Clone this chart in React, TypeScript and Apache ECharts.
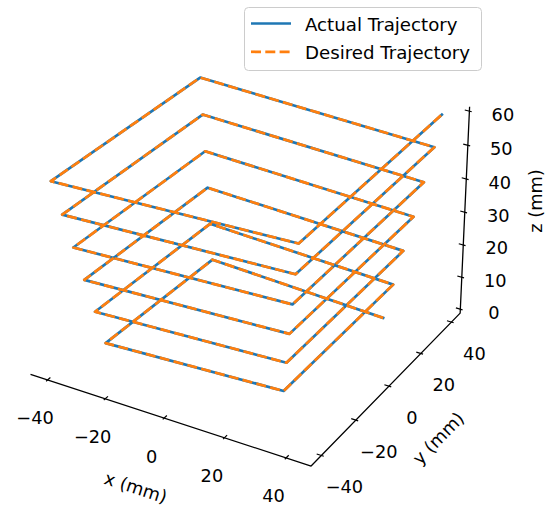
import React, { useEffect, useRef } from "react";
import * as echarts from "echarts";

// ---- data (mm) ----
const desiredX = [30, -30, -30, 30, 32, -32, -32, 32, 34, -34, -34, 34, 36, -36, -36, 36, 38, -38, -38, 38, 40, -40, -40, 40, 42];
const desiredY = [30, 30, -30, -30, 32, 32, -32, -32, 34, 34, -34, -34, 36, 36, -36, -36, 38, 38, -38, -38, 40, 40, -40, -40, 40];
const desiredZ = [0, 2.5, 5, 7.5, 10, 12.5, 15, 17.5, 20, 22.5, 25, 27.5, 30, 32.5, 35, 37.5, 40, 42.5, 45, 47.5, 50, 52.5, 55, 57.5, 60];

const actualX = [30, -30, -30, 30, 32, -32, -32, 32, 34, -34, -34, 34, 36, -36, -36, 36, 38, -38, -38, 38, 40, -40, -40, 40, 42];
const actualY = [30, 30, -30, -30, 32, 32, -32, -32, 34, 34, -34, -34, 36, 36, -36, -36, 38, 38, -38, -38, 40, 40, -40, -40, 40];
const actualZ = [0, 2.5, 5, 7.5, 10, 12.5, 15, 17.5, 20, 22.5, 25, 27.5, 30, 32.5, 35, 37.5, 40, 42.5, 45, 47.5, 50, 52.5, 55, 57.5, 60];

const xTicks = [-40, -20, 0, 20, 40];
const yTicks = [-40, -20, 0, 20, 40];
const zTicks = [0, 10, 20, 30, 40, 50, 60];

const seriesNames = ["Actual Trajectory", "Desired Trajectory"];
const axisTitles = ["x (mm)", "y (mm)", "z (mm)"];

// ---- view / layout ----
const W = 553;
const H = 506;
const ELEV = 30;
const AZIM = -60;
const DIST = 10;
const BOX = [8 / 7, 8 / 7, 6 / 7];
const XLIM = [-44.1, 46.1];
const YLIM = [-44, 44];
const ZLIM = [0, 60];
const K = 2700;
const CX = 249.3;
const CY = 241.1;
const FONT = '17.8px "DejaVu Sans"';
const LEGEND_FONT = '18.2px "DejaVu Sans"';
const BLUE = "#1f77b4";
const ORANGE = "#ff7f0e";
const LW = 2.7;
const DASH = [10, 4.3];

const fmt = (v: number) => (v < 0 ? "\u2212" + Math.abs(v) : String(v));

function makeProjector() {
  const el = (ELEV * Math.PI) / 180;
  const az = (AZIM * Math.PI) / 180;
  const w = [Math.cos(el) * Math.cos(az), Math.cos(el) * Math.sin(az), Math.sin(el)];
  const nu = Math.hypot(w[1], w[0]);
  const u = [-w[1] / nu, w[0] / nu, 0];
  const v = [
    w[1] * u[2] - w[2] * u[1],
    w[2] * u[0] - w[0] * u[2],
    w[0] * u[1] - w[1] * u[0],
  ];
  const dot = (a: number[], b: number[]) => a[0] * b[0] + a[1] * b[1] + a[2] * b[2];
  return (x: number, y: number, z: number): number[] => {
    const P = [
      ((x - XLIM[0]) / (XLIM[1] - XLIM[0]) - 0.5) * BOX[0],
      ((y - YLIM[0]) / (YLIM[1] - YLIM[0]) - 0.5) * BOX[1],
      ((z - ZLIM[0]) / (ZLIM[1] - ZLIM[0]) - 0.5) * BOX[2],
    ];
    const s = 1 / (DIST - dot(w, P));
    return [CX + K * dot(u, P) * s, CY - K * dot(v, P) * s];
  };
}

export default function App() {
  const ref = useRef<HTMLDivElement>(null);

  useEffect(() => {
    if (!ref.current) return;
    const chart = echarts.init(ref.current, undefined, { renderer: "svg" });
    const proj = makeProjector();

    const padX = (XLIM[1] - XLIM[0]) / 48;
    const padY = (YLIM[1] - YLIM[0]) / 48;
    const padZ = (ZLIM[1] - ZLIM[0]) / 48;
    const xb0 = XLIM[0] - padX, xb1 = XLIM[1] + padX;
    const yb0 = YLIM[0] - padY, yb1 = YLIM[1] + padY;
    const zb0 = ZLIM[0] - padZ, zb1 = ZLIM[1] + padZ;
    const dX = (XLIM[1] - XLIM[0]) / 12;
    const dY = (YLIM[1] - YLIM[0]) / 12;

    const actualPts = actualX.map((x, i) => proj(x, actualY[i], actualZ[i]));
    const desiredPts = desiredX.map((x, i) => proj(x, desiredY[i], desiredZ[i]));

    const axisPts = [
      proj(xb0, yb0, zb0),
      proj(xb1, yb0, zb0),
      proj(xb1, yb1, zb0),
      proj(xb1, yb1, zb1),
    ];

    const ticks: number[][][] = [];
    xTicks.forEach((t) => ticks.push([proj(t, yb0 - 0.1 * dY, zb0), proj(t, yb0 + 0.2 * dY, zb0)]));
    yTicks.forEach((t) => ticks.push([proj(xb1 + 0.1 * dX, t, zb0), proj(xb1 - 0.2 * dX, t, zb0)]));
    zTicks.forEach((t) => ticks.push([proj(xb1 + 0.1 * dX, yb1, t), proj(xb1 - 0.2 * dX, yb1, t)]));

    const text = (s: string, x: number, y: number, rotation = 0, extra: any = {}) => ({
      type: "text",
      x,
      y,
      rotation,
      z: 10,
      style: {
        text: s,
        font: FONT,
        fill: "#000",
        align: "center",
        verticalAlign: "middle",
        textAlign: "center",
        textVerticalAlign: "middle",
        ...extra,
      },
    });

    const graphics: any[] = [];
    xTicks.forEach((t) => {
      const p = proj(t, yb0, zb0);
      graphics.push(text(fmt(t), p[0] - 12.5, p[1] + 38));
    });
    yTicks.forEach((t) => {
      const p = proj(xb1, t, zb0);
      graphics.push(text(fmt(t), p[0] + 23, p[1] + 31.5));
    });
    zTicks.forEach((t) => {
      const p = proj(xb1, yb1, t);
      graphics.push(text(fmt(t), p[0] + 33.5, p[1] + 3));
    });

    const mid = (a: number[], b: number[]) => [(a[0] + b[0]) / 2, (a[1] + b[1]) / 2];
    const mx = mid(axisPts[0], axisPts[1]);
    const my = mid(axisPts[1], axisPts[2]);
    const mz = mid(axisPts[2], axisPts[3]);
    const angX = Math.atan2(axisPts[1][1] - axisPts[0][1], axisPts[1][0] - axisPts[0][0]);
    const angY = Math.atan2(axisPts[2][1] - axisPts[1][1], axisPts[2][0] - axisPts[1][0]);
    graphics.push(text(axisTitles[0], mx[0] - 35, mx[1] + 67, -angX));
    graphics.push(text(axisTitles[1], my[0] + 52.5, my[1] + 48.5, -angY));
    graphics.push(text(axisTitles[2], mz[0] + 71, mz[1] - 9, Math.PI / 2));

    // legend
    graphics.push({
      type: "rect",
      z: 10,
      shape: { x: 244.5, y: 7.5, width: 237, height: 63, r: 4 },
      style: { fill: "rgba(255,255,255,0.8)", stroke: "#cccccc", lineWidth: 1 },
    });
    graphics.push({
      type: "line",
      z: 11,
      shape: { x1: 251, y1: 23.5, x2: 291, y2: 23.5 },
      style: { stroke: BLUE, lineWidth: LW },
    });
    graphics.push({
      type: "line",
      z: 11,
      shape: { x1: 251, y1: 51.8, x2: 291, y2: 51.8 },
      style: { stroke: ORANGE, lineWidth: LW, lineDash: DASH },
    });
    graphics.push(text(seriesNames[0], 305, 24.3, 0, { align: "left", textAlign: "left", font: LEGEND_FONT }));
    graphics.push(text(seriesNames[1], 305, 52.6, 0, { align: "left", textAlign: "left", font: LEGEND_FONT }));

    chart.setOption({
      animation: false,
      grid: { left: 0, right: 0, top: 0, bottom: 0, containLabel: false },
      xAxis: { type: "value", min: 0, max: W, show: false },
      yAxis: { type: "value", min: 0, max: H, inverse: true, show: false },
      series: [
        {
          type: "line",
          data: axisPts,
          symbol: "none",
          silent: true,
          clip: false,
          z: 2,
          lineStyle: { color: "#000", width: 1.3 },
        },
        {
          type: "lines",
          coordinateSystem: "cartesian2d",
          silent: true,
          z: 2,
          data: ticks.map((c) => ({ coords: c })),
          lineStyle: { color: "#000", width: 1.2, opacity: 1, curveness: 0 },
        },
        {
          type: "line",
          name: seriesNames[0],
          data: actualPts,
          symbol: "none",
          silent: true,
          clip: false,
          z: 3,
          lineStyle: { color: BLUE, width: LW, join: "round", cap: "square" },
        },
        {
          type: "line",
          name: seriesNames[1],
          data: desiredPts,
          symbol: "none",
          silent: true,
          clip: false,
          z: 4,
          lineStyle: { color: ORANGE, width: LW, type: DASH, join: "round", cap: "butt" },
        },
      ],
      graphic: graphics,
    });

    return () => chart.dispose();
  }, []);

  return (
    <div
      ref={ref}
      style={{ position: "fixed", left: 0, top: 0, width: W, height: H, background: "#fff" }}
    />
  );
}
